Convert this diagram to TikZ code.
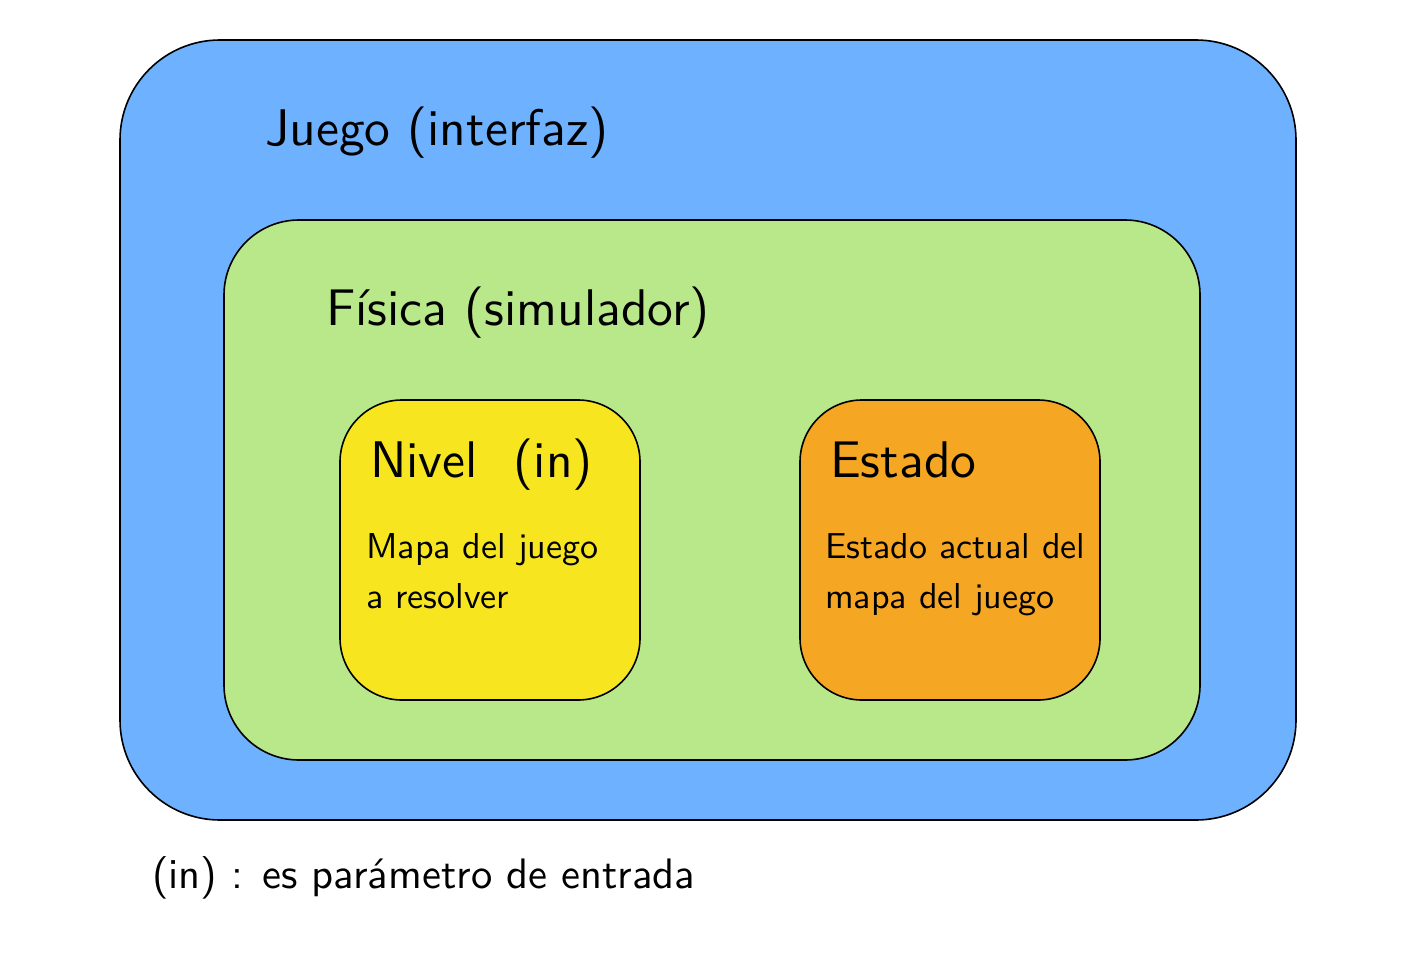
\documentclass[tikz,border=0pt]{standalone}
\usepackage{fontspec}
\setsansfont{lmsans10-regular.otf}
\begin{document}
\begin{tikzpicture}[x=1pt,y=-1pt,
  box/.style={draw=black, line width=1.6pt, rectangle},
  big/.style={anchor=base west, inner sep=0pt, font=\sffamily\fontsize{51.5}{60}\selectfont},
  small/.style={anchor=base west, inner sep=0pt, font=\sffamily\fontsize{36}{50}\selectfont, align=left},
  note/.style={anchor=base west, inner sep=0pt, font=\sffamily\fontsize{42.6}{50}\selectfont}]
\definecolor{cblue}{HTML}{6EB1FF}
\definecolor{cgreen}{HTML}{B9E88A}
\definecolor{cyellow}{HTML}{F7E520}
\definecolor{corange}{HTML}{F5A623}
\useasboundingbox (0,0) rectangle (1426,958);
\node[box, fill=cblue, rounded corners=100pt, minimum width=1176pt, minimum height=780pt] (juego) at (708,430) {};
\node[box, fill=cgreen, rounded corners=75pt, minimum width=976pt, minimum height=540pt] (fisica) at (712,490) {};
\node[box, fill=cyellow, rounded corners=62pt, minimum width=300pt, minimum height=300pt] (nivel) at (490,550) {};
\node[box, fill=corange, rounded corners=62pt, minimum width=300pt, minimum height=300pt] (estado) at (950,550) {};
\node[big] (tj) at (265,145) {Juego (interfaz)};
\node[big] (tf) at (326,325) {Física (simulador)};
\node[big] (tn) at (370,477) {Nivel\hspace{0.7em}(in)};
\node[big] (te) at (830,477) {Estado};
\node[small] (dn) at (366,608) {Mapa del juego\\a resolver};
\node[small] (de) at (825,608) {Estado actual del\\mapa del juego};
\node[note] (nt) at (152,888) {(in) : es parámetro de entrada};
\end{tikzpicture}
\end{document}
